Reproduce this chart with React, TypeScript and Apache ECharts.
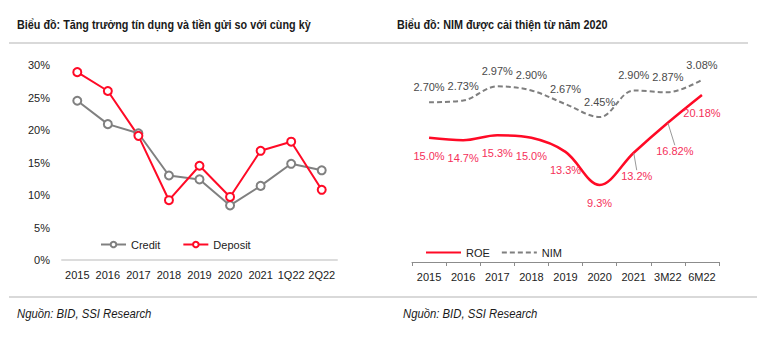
import React, { useEffect, useRef } from "react";
import * as echarts from "echarts";

const leftCategories = ["2015", "2016", "2017", "2018", "2019", "2020", "2021", "1Q22", "2Q22"];
const creditValues = [24.5, 20.9, 19.5, 13.0, 12.4, 8.4, 11.4, 14.8, 13.8];
const depositValues = [28.9, 26.0, 19.1, 9.2, 14.5, 9.7, 16.8, 18.2, 10.8];
const leftTicks = [0, 5, 10, 15, 20, 25, 30];

const rightCategories = ["2015", "2016", "2017", "2018", "2019", "2020", "2021", "3M22", "6M22"];
const roeValues = [15.0, 14.7, 15.3, 15.0, 13.3, 9.3, 13.2, 16.82, 20.18];
const roeLabels = ["15.0%", "14.7%", "15.3%", "15.0%", "13.3%", "9.3%", "13.2%", "16.82%", "20.18%"];
const nimValues = [2.70, 2.73, 2.97, 2.90, 2.67, 2.45, 2.90, 2.87, 3.08];
const nimLabels = ["2.70%", "2.73%", "2.97%", "2.90%", "2.67%", "2.45%", "2.90%", "2.87%", "3.08%"];

const leftTitle = "Biểu đồ: Tăng trưởng tín dụng và tiền gửi so với cùng kỳ";
const rightTitle = "Biểu đồ: NIM được cải thiện từ năm 2020";
const sourceText = "Nguồn: BID, SSI Research";

const FONT = "'Liberation Sans', Arial, sans-serif";
const RED = "#ff0a26";
const GRAY = "#808080";
const CLEAR = "rgba(0,0,0,0)";

export default function App() {
  const ref = useRef<HTMLDivElement>(null);
  useEffect(() => {
    if (!ref.current) return;
    const chart = echarts.init(ref.current, undefined, { renderer: "svg" });
    const titleStyle = { font: `bold 13.5px ${FONT}`, fill: "#1a1a1a", textVerticalAlign: "middle" };
    const srcStyle = { font: `italic 13px ${FONT}`, fill: "#1a1a1a", textVerticalAlign: "middle" };
    const option: any = {
      animation: false,
      textStyle: { fontFamily: FONT },
      graphic: [
        { type: "text", x: 17, y: 25, scaleX: 0.8, style: { text: leftTitle, ...titleStyle } },
        { type: "text", x: 397, y: 25, scaleX: 0.8, style: { text: rightTitle, ...titleStyle } },
        { type: "line", shape: { x1: 9, y1: 43, x2: 748, y2: 43 }, style: { stroke: "#d9d9d9", lineWidth: 2 } },
        { type: "line", shape: { x1: 9, y1: 297, x2: 757, y2: 297 }, style: { stroke: "#d9d9d9", lineWidth: 2 } },
        { type: "text", x: 17, y: 314, scaleX: 0.87, style: { text: sourceText, ...srcStyle } },
        { type: "text", x: 403, y: 314, scaleX: 0.87, style: { text: sourceText, ...srcStyle } },
      ],
      legend: [
        {
          data: ["Credit", "Deposit"],
          left: 95,
          top: 234,
          itemWidth: 25,
          itemHeight: 7,
          itemGap: 22,
          textStyle: { fontFamily: FONT, fontSize: 11, color: "#222" },
        },
        {
          data: ["ROE", "NIM"],
          left: 420,
          top: 242,
          itemWidth: 35,
          itemHeight: 8,
          itemGap: 11,
          textStyle: { fontFamily: FONT, fontSize: 11, color: "#222" },
        },
      ],
      grid: [
        { left: 62, top: 65, width: 275, height: 195 },
        { left: 412, top: 55, width: 307, height: 207 },
      ],
      xAxis: [
        {
          type: "category",
          gridIndex: 0,
          data: leftCategories,
          axisLine: { lineStyle: { color: "#dcdcdc", width: 2 } },
          axisTick: { show: false },
          axisLabel: { color: "#222", fontSize: 11, fontFamily: FONT, margin: 9, interval: 0 },
        },
        {
          type: "category",
          gridIndex: 1,
          data: rightCategories,
          axisLine: { lineStyle: { color: "#8c8c8c", width: 1 } },
          axisTick: { show: true, length: 4, lineStyle: { color: "#8c8c8c" } },
          axisLabel: { color: "#222", fontSize: 11, fontFamily: FONT, margin: 9, interval: 0 },
        },
      ],
      yAxis: [
        {
          type: "value",
          gridIndex: 0,
          min: leftTicks[0],
          max: leftTicks[leftTicks.length - 1],
          interval: 5,
          axisLine: { show: false },
          axisTick: { show: false },
          splitLine: { show: false },
          axisLabel: { color: "#222", fontSize: 11, fontFamily: FONT, margin: 12, formatter: "{value}%" },
        },
        { type: "value", gridIndex: 1, min: 0, max: 25, show: false, splitLine: { show: false } },
        { type: "value", gridIndex: 1, min: 0, max: 3.5, show: false, splitLine: { show: false } },
      ],
      series: [
        {
          name: "Credit",
          type: "line",
          xAxisIndex: 0,
          yAxisIndex: 0,
          data: creditValues,
          symbol: "emptyCircle",
          symbolSize: 8,
          color: GRAY,
          lineStyle: { color: GRAY, width: 2 },
          itemStyle: { color: GRAY, borderWidth: 1.5 },
        },
        {
          name: "Deposit",
          type: "line",
          xAxisIndex: 0,
          yAxisIndex: 0,
          data: depositValues,
          symbol: "emptyCircle",
          symbolSize: 8,
          color: RED,
          lineStyle: { color: RED, width: 2 },
          itemStyle: { color: RED, borderWidth: 1.5 },
        },
        {
          name: "ROE",
          type: "line",
          xAxisIndex: 1,
          yAxisIndex: 1,
          smooth: 0.35,
          showSymbol: true,
          symbol: "circle",
          symbolSize: 1,
          itemStyle: { color: CLEAR, borderWidth: 0 },
          data: roeValues.map((v, i) => ({
            value: v,
            labelLine: { show: i === 6 || i === 7 },
          })),
          lineStyle: { color: RED, width: 2.5 },
          label: {
            show: true,
            position: "bottom",
            distance: 12,
            color: "#f5305a",
            fontSize: 11,
            fontFamily: FONT,
            formatter: (p: any) => roeLabels[p.dataIndex],
          },
          labelLine: { lineStyle: { color: "#999", width: 1 } },
          labelLayout: (p: any) => {
            if (p.dataIndex === 6) return { dx: 3, dy: 5 };
            if (p.dataIndex === 7) return { dx: 7, dy: 10 };
            return {};
          },
        },
        {
          name: "NIM",
          type: "line",
          xAxisIndex: 1,
          yAxisIndex: 2,
          smooth: 0.35,
          showSymbol: true,
          symbol: "circle",
          symbolSize: 1,
          itemStyle: { color: CLEAR, borderWidth: 0 },
          data: nimValues,
          lineStyle: { color: "#7f7f7f", width: 2, type: [5, 3] },
          label: {
            show: true,
            position: "top",
            distance: 9,
            color: "#4a4a4a",
            fontSize: 11,
            fontFamily: FONT,
            formatter: (p: any) => nimLabels[p.dataIndex],
          },
        },
      ],
    };
    chart.setOption(option);
    return () => chart.dispose();
  }, []);
  return <div ref={ref} style={{ position: "absolute", left: 0, top: 0, width: 765, height: 338 }} />;
}
